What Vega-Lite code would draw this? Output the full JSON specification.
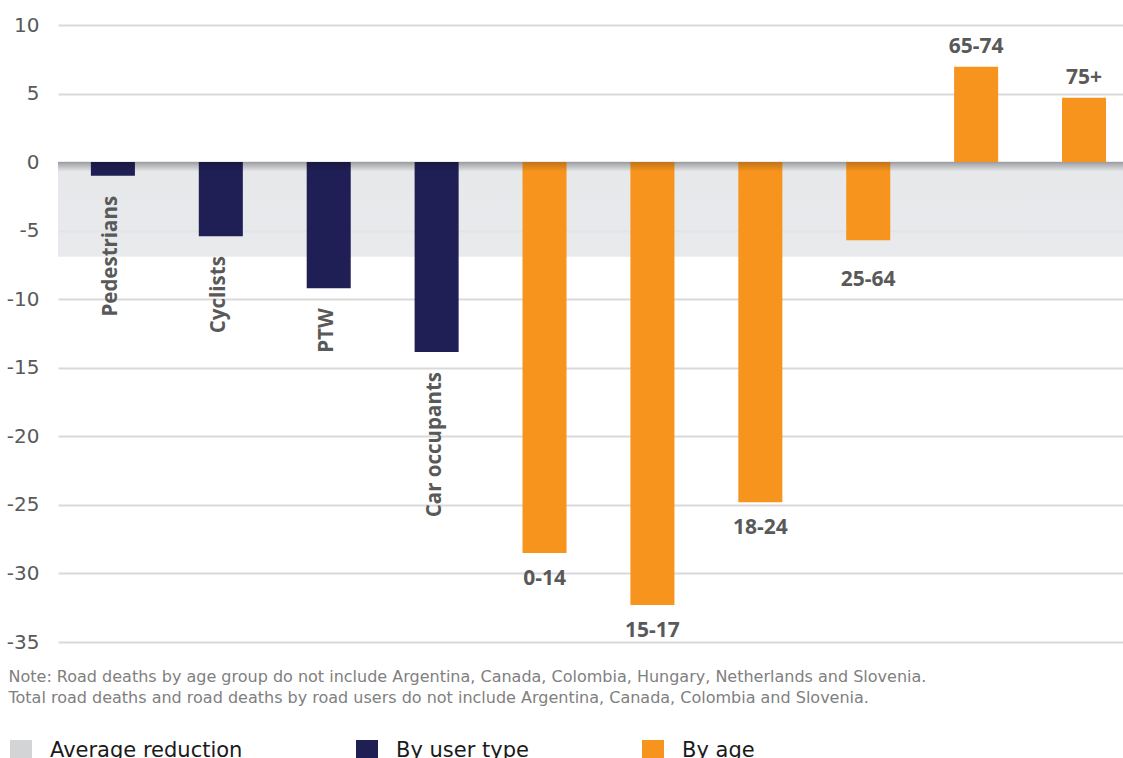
{
  "$schema": "https://vega.github.io/schema/vega-lite/v6.json",
  "width": 1065,
  "height": 617,
  "autosize": {"type": "none"},
  "padding": {"left": 58, "top": 25, "right": 0, "bottom": 116},
  "background": "white",
  "config": {"view": {"stroke": null}, "font": "DejaVu Sans"},
  "datasets": {
    "bars": [
      {"category": "Pedestrians", "value": -1.0, "group": "By user type"},
      {"category": "Cyclists", "value": -5.4, "group": "By user type"},
      {"category": "PTW", "value": -9.2, "group": "By user type"},
      {"category": "Car occupants", "value": -13.85, "group": "By user type"},
      {"category": "0-14", "value": -28.5, "group": "By age"},
      {"category": "15-17", "value": -32.3, "group": "By age"},
      {"category": "18-24", "value": -24.8, "group": "By age"},
      {"category": "25-64", "value": -5.7, "group": "By age"},
      {"category": "65-74", "value": 6.95, "group": "By age"},
      {"category": "75+", "value": 4.7, "group": "By age"}
    ],
    "avg": [
      {"label": "Average reduction", "value": -6.9}
    ]
  },
  "layer": [
    {
      "data": {"name": "avg"},
      "mark": {
        "type": "rect",
        "color": {
          "gradient": "linear", "x1": 0, "y1": 0, "x2": 0, "y2": 1,
          "stops": [
            {"offset": 0, "color": "#c3c5c9"},
            {"offset": 0.1, "color": "#e3e4e7"},
            {"offset": 1, "color": "#e5e6e9"}
          ]
        },
        "opacity": 0.85
      },
      "encoding": {
        "y": {"field": "value", "type": "quantitative", "scale": {"domain": [-35, 10], "nice": false}},
        "y2": {"datum": 0}
      }
    },
    {
      "data": {"name": "bars"},
      "mark": {"type": "bar"},
      "encoding": {
        "x": {
          "field": "category", "type": "nominal", "sort": null,
          "scale": {
            "domain": ["Pedestrians", "Cyclists", "PTW", "Car occupants", "0-14", "15-17", "18-24", "25-64", "65-74", "75+"],
            "paddingInner": 0.592, "paddingOuter": 0.231, "align": 0.66
          },
          "axis": {
            "title": ["Note: Road deaths by age group do not include Argentina, Canada, Colombia, Hungary, Netherlands and Slovenia.", "Total road deaths and road deaths by road users do not include Argentina, Canada, Colombia and Slovenia."],
            "labels": false, "ticks": false, "domain": false, "grid": false,
            "titleFont": "DejaVu Sans", "titleFontSize": 16, "titleColor": "#808080", "titleFontWeight": "normal",
            "titleAnchor": "start", "titleAlign": "left", "titleX": -50, "titleY": 26, "titleBaseline": "top", "titleLineHeight": 21
          }
        },
        "y": {
          "field": "value", "type": "quantitative",
          "scale": {"domain": [-35, 10], "nice": false},
          "axis": {
            "title": null, "values": [-35, -30, -25, -20, -15, -10, -5, 0, 5, 10],
            "labelExpr": "replace(datum.label, '−', '-')",
            "domain": false, "ticks": false, "labelFontSize": 20, "labelColor": "#595959",
            "labelPadding": 19, "labelFont": "DejaVu Sans", "gridColor": "#d9d9d9", "gridWidth": 2
          }
        },
        "color": {
          "field": "group", "type": "nominal",
          "scale": {"domain": ["Average reduction", "By user type", "By age"], "range": ["#d3d4d6", "#201f55", "#f7941d"]},
          "legend": {
            "title": null, "orient": "none", "legendX": -48, "legendY": 715, "direction": "horizontal",
            "columns": 3, "symbolType": "square", "symbolSize": 484, "symbolStrokeWidth": 0,
            "labelFontSize": 21, "labelFont": "DejaVu Sans", "labelColor": "#1a1a1a", "labelOffset": 18,
            "columnPadding": 113, "labelLimit": 400, "padding": 0, "symbolOpacity": 1
          }
        }
      }
    },
    {
      "data": {"name": "avg"},
      "mark": {
        "type": "rect",
        "color": {
          "gradient": "linear", "x1": 0, "y1": 0, "x2": 0, "y2": 1,
          "stops": [
            {"offset": 0, "color": "rgba(0,0,0,0.22)"},
            {"offset": 1, "color": "rgba(0,0,0,0)"}
          ]
        }
      },
      "encoding": {
        "y": {"datum": -0.7, "type": "quantitative"},
        "y2": {"datum": 0}
      }
    },
    {
      "data": {"name": "bars"},
      "transform": [{"filter": "datum.group === 'By user type'"}],
      "mark": {"type": "text", "angle": 270, "align": "right", "baseline": "middle", "dx": -20, "dy": -2, "font": "Open Sans", "fontWeight": "bold", "fontSize": 20.5, "color": "#595959"},
      "encoding": {
        "x": {"field": "category", "type": "nominal", "sort": null},
        "y": {"field": "value", "type": "quantitative"},
        "text": {"field": "category"}
      }
    },
    {
      "data": {"name": "bars"},
      "transform": [{"filter": "datum.group === 'By age' && datum.value <= -7"}],
      "mark": {"type": "text", "align": "center", "baseline": "middle", "dy": 26, "font": "Open Sans", "fontWeight": "bold", "fontSize": 21, "color": "#595959"},
      "encoding": {
        "x": {"field": "category", "type": "nominal", "sort": null},
        "y": {"field": "value", "type": "quantitative"},
        "text": {"field": "category"}
      }
    },
    {
      "data": {"name": "bars"},
      "transform": [{"filter": "datum.group === 'By age' && datum.value < 0 && datum.value > -7"}],
      "mark": {"type": "text", "align": "center", "baseline": "middle", "dy": 40, "font": "Open Sans", "fontWeight": "bold", "fontSize": 21, "color": "#595959"},
      "encoding": {
        "x": {"field": "category", "type": "nominal", "sort": null},
        "y": {"field": "value", "type": "quantitative"},
        "text": {"field": "category"}
      }
    },
    {
      "data": {"name": "bars"},
      "transform": [{"filter": "datum.group === 'By age' && datum.value > 0"}],
      "mark": {"type": "text", "align": "center", "baseline": "middle", "dy": -20, "font": "Open Sans", "fontWeight": "bold", "fontSize": 21, "color": "#595959"},
      "encoding": {
        "x": {"field": "category", "type": "nominal", "sort": null},
        "y": {"field": "value", "type": "quantitative"},
        "text": {"field": "category"}
      }
    }
  ]
}
